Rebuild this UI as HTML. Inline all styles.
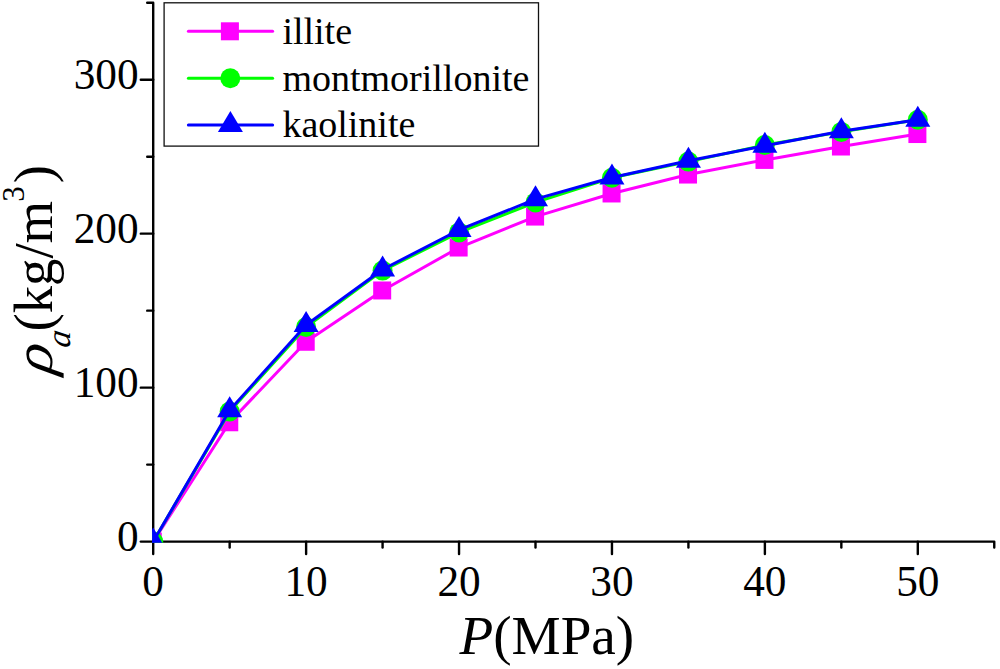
<!DOCTYPE html>
<html><head><meta charset="utf-8"><style>
html,body{margin:0;padding:0;background:#fff;width:1000px;height:669px;overflow:hidden;font-family:"Liberation Serif",serif;}
svg{display:block}
</style></head><body>
<svg width="1000" height="669" viewBox="0 0 1000 669"><defs><clipPath id="pc"><rect x="152.10" y="1.61" width="843.26" height="541.10"/></clipPath></defs>
<g stroke="#000" stroke-width="2.4" fill="none" stroke-linecap="round" stroke-linejoin="round"><path d="M147.20,2.71 H153.20 V541.60 H994.26 V547.60" /><line x1="153.20" y1="541.60" x2="153.20" y2="554.00" /><line x1="229.66" y1="541.60" x2="229.66" y2="547.60" /><line x1="306.12" y1="541.60" x2="306.12" y2="554.00" /><line x1="382.58" y1="541.60" x2="382.58" y2="547.60" /><line x1="459.04" y1="541.60" x2="459.04" y2="554.00" /><line x1="535.50" y1="541.60" x2="535.50" y2="547.60" /><line x1="611.96" y1="541.60" x2="611.96" y2="554.00" /><line x1="688.42" y1="541.60" x2="688.42" y2="547.60" /><line x1="764.88" y1="541.60" x2="764.88" y2="554.00" /><line x1="841.34" y1="541.60" x2="841.34" y2="547.60" /><line x1="917.80" y1="541.60" x2="917.80" y2="554.00" /><line x1="153.20" y1="541.60" x2="140.80" y2="541.60" /><line x1="153.20" y1="464.62" x2="147.20" y2="464.62" /><line x1="153.20" y1="387.63" x2="140.80" y2="387.63" /><line x1="153.20" y1="310.64" x2="147.20" y2="310.64" /><line x1="153.20" y1="233.66" x2="140.80" y2="233.66" /><line x1="153.20" y1="156.68" x2="147.20" y2="156.68" /><line x1="153.20" y1="79.69" x2="140.80" y2="79.69" /></g>
<g clip-path="url(#pc)">
<polyline points="153.20,541.60 229.66,422.27 306.12,341.75 382.58,290.47 459.04,247.52 535.50,216.57 611.96,193.47 688.42,174.54 764.88,159.91 841.34,146.51 917.80,134.04" fill="none" stroke="#ff00ff" stroke-width="3.0" stroke-linejoin="round" stroke-linecap="round"/>
<rect x="143.80" y="532.60" width="18.0" height="18.0" fill="#ff00ff"/>
<rect x="220.26" y="413.27" width="18.0" height="18.0" fill="#ff00ff"/>
<rect x="296.72" y="332.75" width="18.0" height="18.0" fill="#ff00ff"/>
<rect x="373.18" y="281.47" width="18.0" height="18.0" fill="#ff00ff"/>
<rect x="449.64" y="238.52" width="18.0" height="18.0" fill="#ff00ff"/>
<rect x="526.10" y="207.57" width="18.0" height="18.0" fill="#ff00ff"/>
<rect x="602.56" y="184.47" width="18.0" height="18.0" fill="#ff00ff"/>
<rect x="679.02" y="165.54" width="18.0" height="18.0" fill="#ff00ff"/>
<rect x="755.48" y="150.91" width="18.0" height="18.0" fill="#ff00ff"/>
<rect x="831.94" y="137.51" width="18.0" height="18.0" fill="#ff00ff"/>
<rect x="908.40" y="125.04" width="18.0" height="18.0" fill="#ff00ff"/>
<polyline points="153.20,541.60 229.66,411.50 306.12,326.97 382.58,270.61 459.04,232.43 535.50,202.40 611.96,177.77 688.42,161.60 764.88,144.97 841.34,131.89 917.80,119.72" fill="none" stroke="#00ff00" stroke-width="3.0" stroke-linejoin="round" stroke-linecap="round"/>
<circle cx="153.20" cy="541.60" r="10.0" fill="#00ff00"/>
<circle cx="229.66" cy="411.50" r="10.0" fill="#00ff00"/>
<circle cx="306.12" cy="326.97" r="10.0" fill="#00ff00"/>
<circle cx="382.58" cy="270.61" r="10.0" fill="#00ff00"/>
<circle cx="459.04" cy="232.43" r="10.0" fill="#00ff00"/>
<circle cx="535.50" cy="202.40" r="10.0" fill="#00ff00"/>
<circle cx="611.96" cy="177.77" r="10.0" fill="#00ff00"/>
<circle cx="688.42" cy="161.60" r="10.0" fill="#00ff00"/>
<circle cx="764.88" cy="144.97" r="10.0" fill="#00ff00"/>
<circle cx="841.34" cy="131.89" r="10.0" fill="#00ff00"/>
<circle cx="917.80" cy="119.72" r="10.0" fill="#00ff00"/>
<polyline points="153.20,541.60 229.66,410.26 306.12,324.96 382.58,269.54 459.04,229.96 535.50,199.17 611.96,177.46 688.42,160.68 764.88,145.74 841.34,131.27 917.80,119.72" fill="none" stroke="#0000ff" stroke-width="3.0" stroke-linejoin="round" stroke-linecap="round"/>
<polygon points="153.20,527.60 140.70,548.60 165.70,548.60" fill="#0000ff"/>
<polygon points="229.66,396.26 217.16,417.26 242.16,417.26" fill="#0000ff"/>
<polygon points="306.12,310.96 293.62,331.96 318.62,331.96" fill="#0000ff"/>
<polygon points="382.58,255.54 370.08,276.54 395.08,276.54" fill="#0000ff"/>
<polygon points="459.04,215.96 446.54,236.96 471.54,236.96" fill="#0000ff"/>
<polygon points="535.50,185.17 523.00,206.17 548.00,206.17" fill="#0000ff"/>
<polygon points="611.96,163.46 599.46,184.46 624.46,184.46" fill="#0000ff"/>
<polygon points="688.42,146.68 675.92,167.68 700.92,167.68" fill="#0000ff"/>
<polygon points="764.88,131.74 752.38,152.74 777.38,152.74" fill="#0000ff"/>
<polygon points="841.34,117.27 828.84,138.27 853.84,138.27" fill="#0000ff"/>
<polygon points="917.80,105.72 905.30,126.72 930.30,126.72" fill="#0000ff"/>
</g>
<g font-family="Liberation Serif" font-size="43.3" fill="#000"><text x="153.20" y="596" text-anchor="middle">0</text><text x="306.12" y="596" text-anchor="middle">10</text><text x="459.04" y="596" text-anchor="middle">20</text><text x="611.96" y="596" text-anchor="middle">30</text><text x="764.88" y="596" text-anchor="middle">40</text><text x="917.80" y="596" text-anchor="middle">50</text><text x="138.6" y="550.70" text-anchor="end">0</text><text x="138.6" y="396.73" text-anchor="end">100</text><text x="138.6" y="242.76" text-anchor="end">200</text><text x="138.6" y="88.79" text-anchor="end">300</text></g>
<text x="459.5" y="654" font-family="Liberation Serif" font-size="55.2" fill="#000"><tspan font-style="italic">P</tspan>(MPa)</text>
<g font-family="Liberation Serif" fill="#000"><text transform="translate(51.5,378.0) rotate(-90) skewX(-20) scale(1.12,1)" font-size="54.7" fill="#000">&#961;</text><text transform="translate(70.2,348.5) rotate(-90) skewX(-8) scale(1.02,1)" font-size="33.5" font-style="italic" fill="#000">a</text><text transform="translate(51.5,331.5) rotate(-90)" font-size="54.7" fill="#000">(kg/m</text><text transform="translate(24.3,201.8) rotate(-90)" font-size="31" fill="#000">3</text><text transform="translate(51.5,183.3) rotate(-90)" font-size="54.7" fill="#000">)</text></g>
<rect x="164.1" y="2.8" width="374.4" height="143.3" fill="#fff" stroke="#111" stroke-width="1.3"/>
<line x1="188.4" y1="31.3" x2="272.6" y2="31.3" stroke="#ff00ff" stroke-width="3.0" stroke-linecap="round"/>
<rect x="220.90" y="22.30" width="18.0" height="18.0" fill="#ff00ff"/>
<text x="282.4" y="43.8" font-family="Liberation Serif" font-size="38" fill="#000">illite</text>
<line x1="188.4" y1="78.3" x2="272.6" y2="78.3" stroke="#00ff00" stroke-width="3.0" stroke-linecap="round"/>
<circle cx="230.30" cy="78.30" r="10.0" fill="#00ff00"/>
<text x="282.4" y="90.7" font-family="Liberation Serif" font-size="38" fill="#000">montmorillonite</text>
<line x1="188.4" y1="125.0" x2="272.6" y2="125.0" stroke="#0000ff" stroke-width="3.0" stroke-linecap="round"/>
<polygon points="230.40,111.00 217.90,132.00 242.90,132.00" fill="#0000ff"/>
<text x="282.4" y="137.3" font-family="Liberation Serif" font-size="38" fill="#000">kaolinite</text></svg>
</body></html>
